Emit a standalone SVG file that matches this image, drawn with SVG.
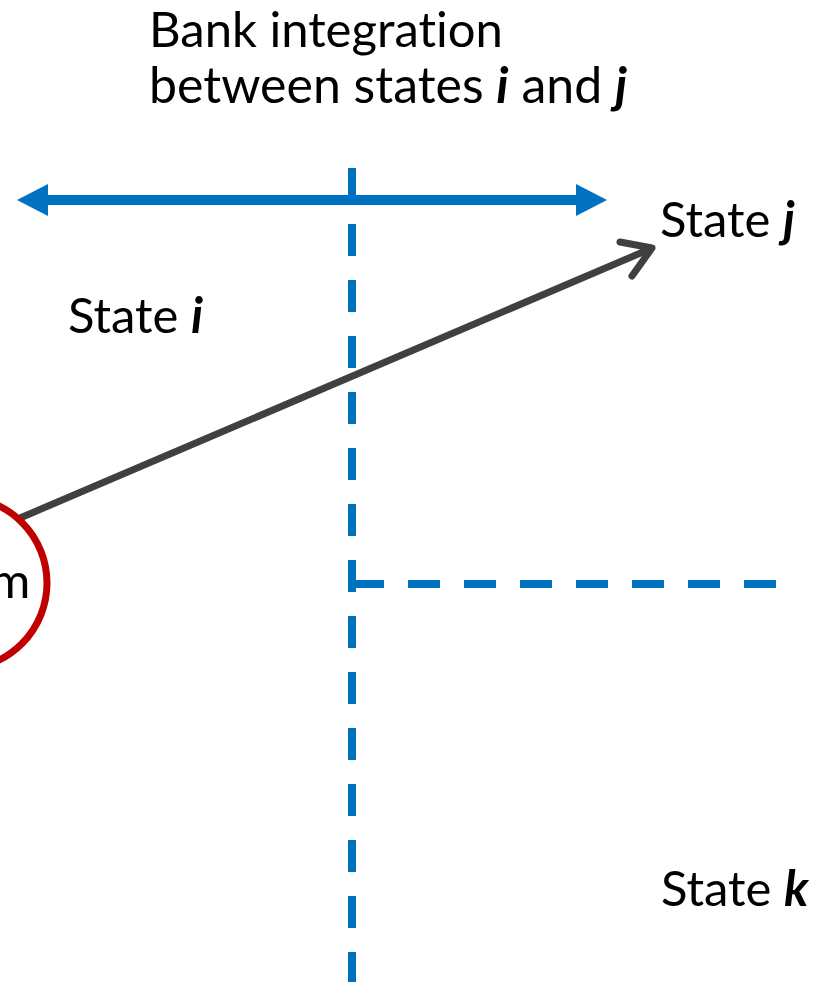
<svg xmlns="http://www.w3.org/2000/svg" width="815" height="982" viewBox="0 0 815 982">
<style>
text{font-family:Lato,"Open Sans","Liberation Sans",sans-serif;font-size:49px;fill:#000;font-variant-ligatures:none}
.t2{font-size:50px}
.v{font-weight:bold;font-style:italic}
.blue{stroke:#0070C0;stroke-width:8;fill:none}
.dash{stroke-dasharray:32 24}
</style>
<rect width="815" height="982" fill="#fff"/>
<g id="connectors">
<line class="blue dash" x1="352" y1="168" x2="352" y2="982"/>
<line class="blue dash" x1="352" y1="584" x2="776" y2="584"/>
<line x1="46" y1="200" x2="578" y2="200" stroke="#0070C0" stroke-width="10"/>
<polygon points="17,200 48,184 48,216" fill="#0070C0"/>
<polygon points="607,200 576,184 576,216" fill="#0070C0"/>
<g stroke="#404040" stroke-width="7" stroke-linecap="round" fill="none">
<line x1="20" y1="518" x2="650" y2="249"/>
<polyline points="620,242 652,248 632,276" stroke-linejoin="round"/>
</g>
</g>
<g id="bank">
<circle cx="-39" cy="583" r="86" fill="none" stroke="#C00000" stroke-width="7"/>
<text x="-10" y="598">m</text>
</g>
<g id="title">
<text x="149" y="47">Bank integration</text>
<text class="t2" x="149" y="103">between states <tspan class="v">i</tspan> and <tspan class="v">j</tspan></text>
</g>
<g id="state-i"><text x="68" y="333">State <tspan class="v">i</tspan></text></g>
<g id="state-j"><text x="660" y="237">State <tspan class="v">j</tspan></text></g>
<g id="state-k"><text x="661" y="906">State <tspan class="v">k</tspan></text></g>
</svg>
